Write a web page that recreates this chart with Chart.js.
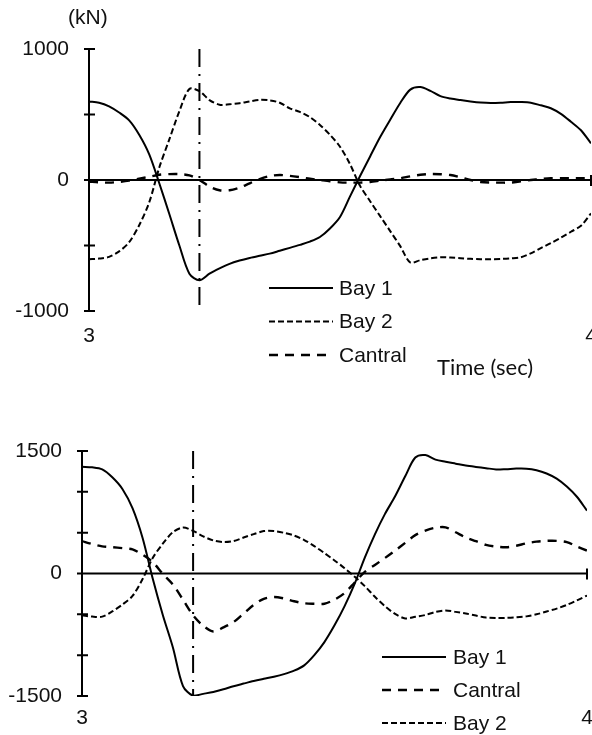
<!DOCTYPE html>
<html>
<head>
<meta charset="utf-8">
<script src="https://cdn.jsdelivr.net/npm/chart.js@4/dist/chart.umd.min.js"></script>
<style>
  html, body { margin: 0; padding: 0; background: #fff; overflow: hidden; width: 592px; height: 735px; }
  .wrap { position: absolute; left: 0; width: 600px; }
  #w1 { top: 0; height: 380px; }
  #w2 { top: 380px; height: 355px; }
  .lbl { position: absolute; white-space: nowrap; line-height: 1; color: #111; }
  #kn { left: 68px; top: 5px; font: 21px "Liberation Sans", Arial, sans-serif; }
  #time { left: 437px; top: 353px; font: 22px Lato, "Open Sans", sans-serif; }
</style>
</head>
<body>
<div class="wrap" id="w1"><canvas id="c1" width="600" height="380"></canvas></div>
<div class="wrap" id="w2"><canvas id="c2" width="600" height="355"></canvas></div>
<div class="lbl" id="kn">(kN)</div>
<div class="lbl" id="time">Time (sec)</div>
<script>
// ---- Data (time in sec, forces in kN) ----
const times = [3.00,3.02,3.04,3.06,3.08,3.10,3.12,3.14,3.16,3.18,3.20,
               3.22,3.24,3.26,3.28,3.30,3.32,3.34,3.36,3.38,3.40,
               3.42,3.44,3.46,3.48,3.50,3.52,3.54,3.56,3.58,3.60,
               3.62,3.64,3.66,3.68,3.70,3.72,3.74,3.76,3.78,3.80,
               3.82,3.84,3.86,3.88,3.90,3.92,3.94,3.96,3.98,4.00];

const markerTime = 3.22;

// Upper chart
const topBay1 = [600,590,562,515,455,345,195,-25,-260,-500,-715,
                 -765,-715,-675,-640,-615,-595,-578,-562,-540,-518,
                 -495,-470,-435,-370,-282,-125,30,180,328,460,
                 588,690,710,680,640,622,610,600,592,588,
                 590,595,595,590,570,548,505,445,380,280];
const topBay2 = [-605,-600,-587,-545,-475,-345,-170,95,310,525,695,
                 678,610,575,578,586,600,612,608,590,547,
                 520,480,420,345,254,120,-45,-162,-276,-390,
                 -505,-630,-612,-598,-590,-592,-597,-602,-605,-605,
                 -603,-598,-590,-560,-520,-482,-440,-395,-350,-255];
const topCentral = [-13,-18,-20,-15,-5,10,25,40,45,45,35,
                    0,-50,-78,-78,-58,-25,7,30,38,32,
                    22,10,0,-10,-18,-20,-20,-15,-5,5,
                    13,28,40,46,44,38,20,0,-15,-20,
                    -20,-20,-10,0,8,13,13,13,13,13];

// Lower chart
const botBay1 = [1306,1300,1275,1178,1035,800,435,-62,-508,-906,-1378,
                 -1497,-1474,-1450,-1418,-1380,-1348,-1317,-1290,-1264,-1232,
                 -1190,-1125,-1000,-840,-635,-400,-125,195,480,730,
                 945,1190,1420,1450,1395,1368,1345,1322,1305,1290,
                 1274,1278,1285,1284,1265,1225,1162,1065,940,770];
const botCentral = [397,360,332,322,310,296,230,140,-5,-135,-321,
                    -512,-640,-711,-660,-595,-490,-385,-310,-287,-305,
                    -340,-365,-370,-370,-320,-240,-110,20,105,190,
                    280,375,470,525,560,565,505,440,395,350,
                    330,322,340,370,390,400,400,385,330,280];
const botBay2 = [-512,-528,-528,-465,-380,-275,-67,190,365,505,562,
                 521,455,405,385,397,440,482,520,520,498,
                 465,410,335,250,160,65,-40,-155,-285,-400,
                 -495,-550,-530,-508,-470,-452,-470,-490,-515,-540,
                 -545,-543,-537,-525,-500,-465,-430,-385,-330,-270];

const topRange = [-1000, 1000], topLabelEvery = 1000;
const botRange = [-1500, 1500], botLabelEvery = 1500;
const xTicks = [3, 4];

// ---- helpers ----
const pts = (vals) => times.map((t, i) => ({ x: t, y: vals[i] }));
const FONT = "'Liberation Sans', Arial, sans-serif";
const FSIZE = 21;

const STYLE = {
  solid: { borderDash: [], borderWidth: 2 },
  short: { borderDash: [6, 3], borderWidth: 2 },
  long:  { borderDash: [9, 7], borderWidth: 2.4 }
};

function series(label, vals, st) {
  return Object.assign({
    label, data: pts(vals), borderColor: '#000', backgroundColor: '#000',
    pointRadius: 0, tension: 0.3, fill: false, legend: true
  }, STYLE[st]);
}
function marker(range) {
  return {
    label: 'marker', data: [{ x: markerTime, y: range[1] }, { x: markerTime, y: range[0] }],
    borderColor: '#000', borderWidth: 2, borderDash: [18, 7, 2, 7], pointRadius: 0,
    tension: 0, fill: false, legend: false, clip: false
  };
}

// axes drawn through the chart's scales (Excel-style crossing ticks, x axis at zero)
const crossAxes = {
  id: 'crossAxes',
  beforeDatasetsDraw(chart) {
    const { ctx, scales: { x, y } } = chart;
    const x0 = x.getPixelForValue(x.min);
    const yTop = y.getPixelForValue(y.max), yBot = y.getPixelForValue(y.min);
    const yz = y.getPixelForValue(0);
    ctx.save();
    ctx.strokeStyle = '#000';
    ctx.lineWidth = 2;
    ctx.beginPath();
    ctx.moveTo(x0, yTop); ctx.lineTo(x0, yBot);
    y.ticks.forEach(t => { const p = y.getPixelForValue(t.value); ctx.moveTo(x0 - 5, p); ctx.lineTo(x0 + 6, p); });
    ctx.moveTo(x0, yz); ctx.lineTo(x.getPixelForValue(x.max), yz);
    x.ticks.forEach(t => { const p = x.getPixelForValue(t.value); ctx.moveTo(p, yz - 5); ctx.lineTo(p, yz + 6); });
    ctx.stroke();
    ctx.restore();
  }
};

// legend with line samples
const lineLegend = {
  id: 'lineLegend',
  afterDraw(chart, args, o) {
    const { ctx } = chart;
    ctx.save();
    ctx.font = FSIZE + 'px ' + FONT;
    ctx.textBaseline = 'middle';
    ctx.fillStyle = '#111';
    let row = 0;
    chart.data.datasets.forEach(ds => {
      if (!ds.legend) return;
      const y = o.y + row * o.gap;
      ctx.strokeStyle = '#000';
      ctx.lineWidth = ds.borderWidth;
      ctx.setLineDash(ds.borderDash || []);
      ctx.beginPath(); ctx.moveTo(o.x, y); ctx.lineTo(o.x + o.len, y); ctx.stroke();
      ctx.setLineDash([]);
      ctx.fillText(ds.label, o.x + o.len + o.textGap, y + 1);
      row++;
    });
    ctx.restore();
  }
};

function makeChart(id, datasets, range, labelEvery, geo) {
  return new Chart(document.getElementById(id), {
    type: 'line',
    data: { datasets },
    plugins: [crossAxes, lineLegend],
    options: {
      responsive: false, animation: false, devicePixelRatio: 1,
      layout: { padding: { top: geo.top, right: geo.right, left: 0, bottom: 0 } },
      plugins: { legend: { display: false }, tooltip: { enabled: false },
                 lineLegend: geo.legend },
      scales: {
        x: {
          type: 'linear', min: xTicks[0], max: xTicks[xTicks.length - 1],
          grid: { display: false, drawTicks: true, tickLength: geo.xPad }, border: { display: false },
          afterBuildTicks: (s) => { s.ticks = xTicks.map(v => ({ value: v })); },
          ticks: { color: '#111', font: { family: FONT, size: FSIZE }, padding: 0,
                   maxRotation: 0, autoSkip: false, callback: v => String(v) },
          afterFit: (s) => { s.height = geo.xH; }
        },
        y: {
          type: 'linear', min: range[0], max: range[1],
          grid: { display: false, drawTicks: false }, border: { display: false },
          ticks: { color: '#111', font: { family: FONT, size: FSIZE }, padding: 20, stepSize: 500,
                   callback: v => (v % labelEvery === 0 ? String(v) : '') },
          afterFit: (s) => { s.width = geo.yW; }
        }
      }
    }
  });
}

makeChart('c1', [
  series('Bay 1', topBay1, 'solid'),
  series('Bay 2', topBay2, 'short'),
  series('Cantral', topCentral, 'long'),
  marker(topRange)
], topRange, topLabelEvery,
{ top: 49, right: 9, yW: 89, xH: 69, xPad: 13, legend: { x: 269, y: 288, gap: 33.5, len: 64, textGap: 6 } });

makeChart('c2', [
  series('Bay 1', botBay1, 'solid'),
  series('Cantral', botCentral, 'long'),
  series('Bay 2', botBay2, 'short'),
  marker(botRange)
], botRange, botLabelEvery,
{ top: 71, right: 13, yW: 82, xH: 39, xPad: 10, legend: { x: 382, y: 277, gap: 33, len: 64, textGap: 7 } });
</script>
</body>
</html>
